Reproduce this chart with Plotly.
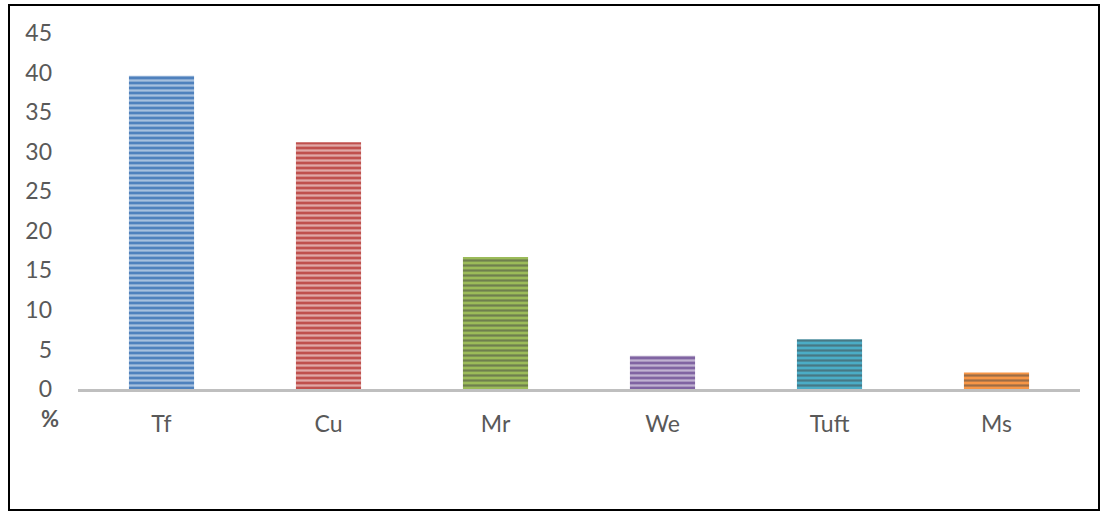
import plotly.graph_objects as go

categories = ["Tf", "Cu", "Mr", "We", "Tuft", "Ms"]
values = [39.6, 31.2, 16.7, 4.2, 6.3, 2.1]
y_ticks = [0, 5, 10, 15, 20, 25, 30, 35, 40, 45]

dark = ["#4F81BD", "#C0504D", "#9BBB59", "#8064A2", "#4BACC6", "#F79646"]
light = ["#C2D4EC", "#EABDBC", "#D9E8BA", "#D2C6E2", "#BCE3EE", "#FCD4B4"]

fig = go.Figure()
fig.add_trace(go.Bar(
    x=categories, y=values,
    width=0.39,
    marker=dict(
        color=dark,
        line=dict(width=0),
        pattern=dict(shape="-", fgcolor=light, bgcolor=dark, size=5, solidity=0.45),
    ),
    showlegend=False,
))

font_color = "#595959"
fig.update_layout(
    width=1102, height=513,
    margin=dict(l=78, r=22, t=33, b=124),
    paper_bgcolor="white", plot_bgcolor="white",
    font=dict(family="Lato, Open Sans, sans-serif", size=23, color=font_color),
    bargap=0.61,
    xaxis=dict(
        showline=True, linecolor="#BFBFBF", linewidth=3,
        showgrid=False, ticks="", ticklabelstandoff=12,
        tickfont=dict(size=23, color=font_color),
    ),
    yaxis=dict(
        range=[0, 45], tickvals=y_ticks, showgrid=False, showline=False,
        zeroline=False, ticks="", ticklabelstandoff=25,
        tickfont=dict(size=23, color=font_color),
    ),
    shapes=[dict(
        type="rect", xref="paper", yref="paper",
        x0=(9 - 78) / 1002, x1=(1099 - 78) / 1002,
        y0=(389 - 510) / 356, y1=(389 - 5) / 356,
        line=dict(color="black", width=2), fillcolor="rgba(0,0,0,0)", layer="below",
    )],
    annotations=[dict(
        text="<b>%</b>", xref="paper", yref="paper",
        x=(50 - 78) / 1002, y=(389 - 418) / 356,
        showarrow=False, font=dict(size=22, color=font_color),
        xanchor="center", yanchor="middle",
    )],
)

fig.write_html("out.html")
